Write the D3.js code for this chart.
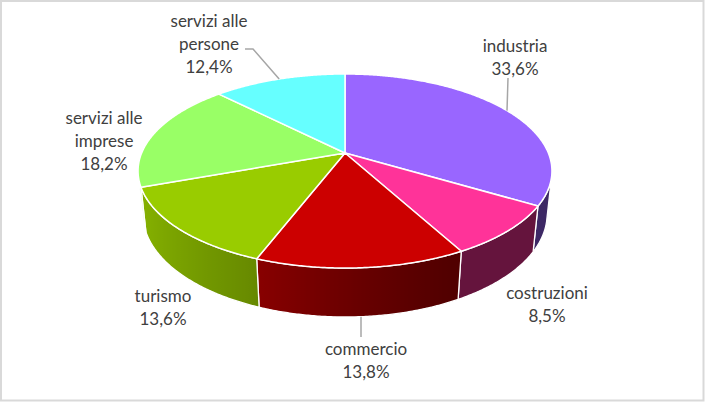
<!DOCTYPE html>
<html>
<head>
<meta charset="utf-8">
<script src="https://cdn.jsdelivr.net/npm/d3@7"></script>
<style>
  body { margin: 0; background: #fff; }
  svg { display: block; }
  .lbl { font-family: Lato, "Open Sans", sans-serif; font-size: 17px; fill: #404040; }
</style>
</head>
<body>
<svg id="chart" width="705" height="402"></svg>
<script>
// data
const categories = ["industria", "costruzioni", "commercio", "turismo", "servizi alle imprese", "servizi alle persone"];
const values = [33.6, 8.5, 13.8, 13.6, 18.2, 12.4];
const valueLabels = ["33,6%", "8,5%", "13,8%", "13,6%", "18,2%", "12,4%"];
const colors = ["#9966FF", "#FF3399", "#CC0000", "#99CC00", "#99FF66", "#66FFFF"];

// label placement (layout only)
const labelPos = [
  {x: 515, y: 46, leader: [[508, 78]], edge: 0},
  {x: 547, y: 293},
  {x: 366, y: 349, leader: [[361, 337]], edge: 1},
  {x: 163, y: 296},
  {x: 104, y: 118},
  {x: 209, y: 21, leader: [[245, 49], [253, 49]], edge: 0}
];

const width = 705, height = 402;
const svg = d3.select("#chart");

// border
svg.append("rect")
  .attr("x", 1).attr("y", 1)
  .attr("width", width - 2.5).attr("height", height - 2.5)
  .attr("fill", "#fff")
  .attr("stroke", "#d9d9d9")
  .attr("stroke-width", 2);

// 3d camera for the tilted pie
const cx = 345, cy = 153;
const focal = 972, dist = 4.78;
const sinP = 0.4607, cosP = 0.8876;
const thick = 0.242;

// angle t clockwise from top, h = 0 top face, 1 bottom
function proj(t, h) {
  const X = Math.sin(t), Z = -Math.cos(t), Y = -thick * h;
  const depth = dist - Y * sinP - Z * cosP;
  return [cx + focal * X / depth, cy - focal * (Y * cosP - Z * sinP) / depth];
}

function samples(a0, a1) {
  const n = Math.max(2, Math.ceil((a1 - a0) / 0.008));
  return d3.range(n + 1).map(i => a0 + (a1 - a0) * i / n);
}

const pie = d3.pie().sort(null).startAngle(0).endAngle(2 * Math.PI);
const arcs = pie(values);
const line = d3.line().curve(d3.curveLinearClosed);

// side shading by horizontal position
const shade = d3.scaleLinear().domain([-1, -0.4, 0.45, 1]).range([0.3, 1.05, 2.6, 2.6]).clamp(true);

// visible part of the outer wall
const z0 = 1 / (dist * cosP);
const vis0 = Math.acos(-z0), vis1 = 2 * Math.PI - vis0;

const defs = svg.append("defs");
const sides = svg.append("g");
const tops = svg.append("g");

arcs.forEach((a, i) => {
  const s0 = Math.max(a.startAngle, vis0), s1 = Math.min(a.endAngle, vis1);
  if (s1 <= s0) return;
  const ts = samples(s0, s1);
  const topPts = ts.map(t => proj(t, 0));
  const botPts = ts.map(t => proj(t, 1)).reverse();

  const xs = topPts.map(p => p[0]);
  const xL = d3.min(xs), xR = d3.max(xs);
  const grad = defs.append("linearGradient")
    .attr("id", "side" + i)
    .attr("gradientUnits", "userSpaceOnUse")
    .attr("x1", xL).attr("x2", xR).attr("y1", 0).attr("y2", 0);
  const st = ts.map(t => ({x: proj(t, 0)[0], c: d3.color(colors[i]).darker(shade(Math.sin(t)))}))
    .sort((p, q) => p.x - q.x);
  st.forEach(s => {
    grad.append("stop")
      .attr("offset", xR > xL ? (s.x - xL) / (xR - xL) : 0)
      .attr("stop-color", s.c.formatHex());
  });

  sides.append("path")
    .attr("d", line(topPts.concat(botPts)))
    .attr("fill", `url(#side${i})`)
    .attr("stroke", "#fff")
    .attr("stroke-width", 1.3)
    .attr("stroke-linejoin", "round");
});

arcs.forEach((a, i) => {
  const pts = [[cx, cy]].concat(samples(a.startAngle, a.endAngle).map(t => proj(t, 0)));
  tops.append("path")
    .attr("d", line(pts))
    .attr("fill", colors[i])
    .attr("stroke", "#fff")
    .attr("stroke-width", 1.5)
    .attr("stroke-linejoin", "round");
});

// leader lines
arcs.forEach((a, i) => {
  const lp = labelPos[i];
  if (!lp.leader) return;
  const mid = (a.startAngle + a.endAngle) / 2;
  const pts = lp.leader.concat([proj(mid, lp.edge)]);
  svg.append("path")
    .attr("d", d3.line()(pts))
    .attr("fill", "none")
    .attr("stroke", "#a6a6a6")
    .attr("stroke-width", 1.5);
});

// labels
categories.forEach((c, i) => {
  const lp = labelPos[i];
  const lines = c.replace("alle ", "alle\n").split("\n").concat([valueLabels[i]]);
  const txt = svg.append("text")
    .attr("class", "lbl")
    .attr("text-anchor", "middle");
  lines.forEach((l, j) => {
    txt.append("tspan")
      .attr("x", lp.x)
      .attr("y", lp.y + 6 + j * 23)
      .text(l);
  });
});
</script>
</body>
</html>
